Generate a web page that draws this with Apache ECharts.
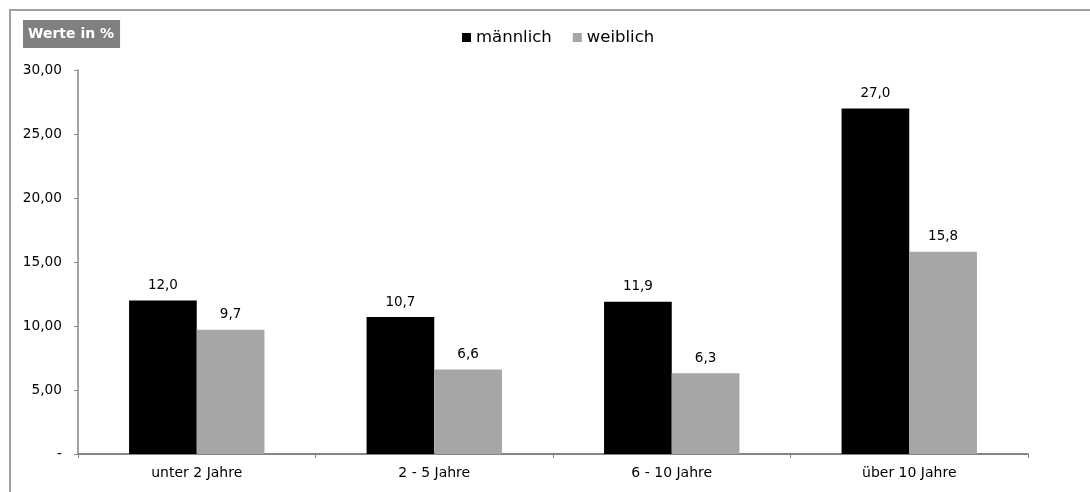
<!DOCTYPE html>
<html>
<head>
<meta charset="utf-8">
<script src="https://cdn.jsdelivr.net/npm/echarts@6/dist/echarts.min.js"></script>
<style>html,body{margin:0;padding:0;background:#fff;overflow:hidden;}#c{width:1090px;height:492px;}</style>
</head>
<body>
<div id="c"></div>
<script>
const categories = ['unter 2 Jahre', '2 - 5 Jahre', '6 - 10 Jahre', 'über 10 Jahre'];
const maennlich = [12.0, 10.7, 11.9, 27.0];
const weiblich = [9.7, 6.6, 6.3, 15.8];
const seriesNames = ['männlich', 'weiblich'];
const unitLabel = 'Werte in %';

const font = 'DejaVu Sans, Verdana, sans-serif';
const fmt1 = v => v.toFixed(1).replace('.', ',');
const chart = echarts.init(document.getElementById('c'), null, {renderer: 'canvas'});
chart.setOption({
  animation: false,
  backgroundColor: '#fff',
  graphic: [
    {type: 'line', shape: {x1: 9, y1: 10, x2: 1090, y2: 10}, style: {stroke: '#a0a0a0', lineWidth: 2}, silent: true},
    {type: 'line', shape: {x1: 10, y1: 9, x2: 10, y2: 492}, style: {stroke: '#a0a0a0', lineWidth: 2}, silent: true}
  ],
  title: {
    text: unitLabel, left: 23, top: 20,
    backgroundColor: '#808080', padding: [7, 6, 7, 5],
    textStyle: {color: '#fff', fontWeight: 'bold', fontSize: 14, fontFamily: font}
  },
  legend: {
    top: 24, left: 457, itemWidth: 9, itemHeight: 9, itemGap: 21,
    icon: 'rect',
    textStyle: {fontSize: 16.5, fontFamily: font, color: '#000'},
    data: seriesNames
  },
  grid: {left: 78, right: 62, top: 70, bottom: 38, containLabel: false},
  xAxis: {
    type: 'category', data: categories,
    axisLine: {lineStyle: {color: '#868686', width: 2}},
    axisTick: {show: true, length: 4, lineStyle: {color: '#868686', width: 1}},
    axisLabel: {fontSize: 14, fontFamily: font, color: '#000', margin: 12}
  },
  yAxis: {
    type: 'value', min: 0, max: 30, interval: 5,
    axisLine: {show: true, lineStyle: {color: '#868686', width: 1.5}},
    axisTick: {show: true, length: 4, lineStyle: {color: '#868686'}},
    splitLine: {show: false},
    axisLabel: {
      fontSize: 13.7, fontFamily: font, color: '#000', margin: 16,
      formatter: v => v === 0 ? '-' : v.toFixed(2).replace('.', ',')
    }
  },
  series: [
    {
      name: seriesNames[0], type: 'bar', data: maennlich,
      itemStyle: {color: '#000000'}, barGap: '0%', barCategoryGap: '43%',
      label: {show: true, position: 'top', distance: 8, fontSize: 13.5, fontFamily: font, color: '#000', formatter: p => fmt1(p.value)}
    },
    {
      name: seriesNames[1], type: 'bar', data: weiblich,
      itemStyle: {color: '#a6a6a6'}, barGap: '0%', barCategoryGap: '43%',
      label: {show: true, position: 'top', distance: 8, fontSize: 13.5, fontFamily: font, color: '#000', formatter: p => fmt1(p.value)}
    }
  ]
});
</script>
</body>
</html>
